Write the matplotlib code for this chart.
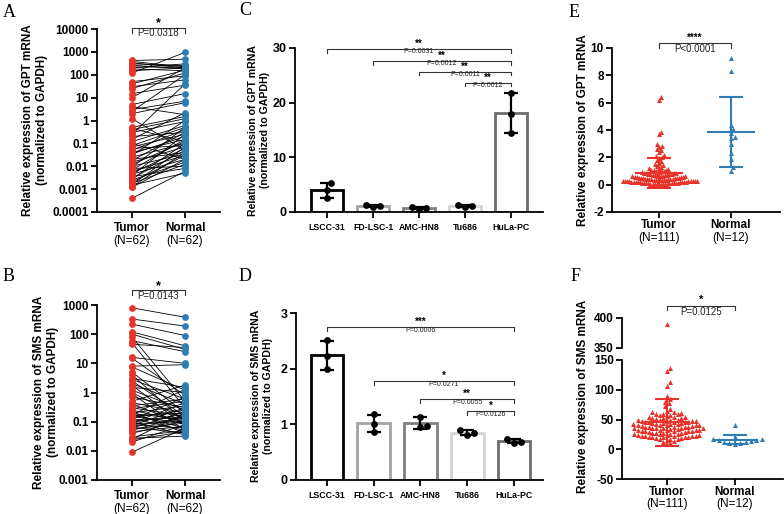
import numpy as np
import matplotlib
matplotlib.use("Agg")
import matplotlib.pyplot as plt
from matplotlib.ticker import NullLocator

plt.rcParams['font.family'] = ['Liberation Sans', 'DejaVu Sans']

# ------------ data ---------------
groups = ["Tumor", "Normal"]

# A: paired GPT (tumor, normal) - same order = same patient
gpt_pair_tumor = [420, 380, 330, 300, 260, 220, 200, 180, 150, 120,
                  50, 40, 30, 25, 15, 10, 5, 4, 3, 2.5,
                  2, 1.2, 0.5, 0.45, 0.4, 0.3, 0.25, 0.2, 0.15, 0.12,
                  0.1, 0.08, 0.07, 0.06, 0.05, 0.04, 0.035, 0.03, 0.025, 0.02,
                  0.018, 0.015, 0.012, 0.01, 0.009, 0.008, 0.007, 0.006, 0.005, 0.0045,
                  0.004, 0.0035, 0.003, 0.0028, 0.0025, 0.002, 0.0018, 0.0016, 0.0015, 0.0013,
                  0.0012, 0.0004]
gpt_pair_normal = [480, 220, 200, 250, 180, 210, 300, 150, 200, 950,
                   90, 160, 60, 120, 35, 200, 15, 1.8, 7, 100,
                   6, 0.05, 1.5, 0.12, 1.2, 0.9, 40, 0.3, 2.2, 0.6,
                   0.02, 0.5, 0.25, 0.08, 0.4, 0.15, 0.2, 1.0, 0.1, 0.04,
                   0.3, 0.07, 0.12, 0.035, 0.5, 0.01, 0.15, 0.03, 0.06, 0.02,
                   0.25, 0.008, 0.05, 0.1, 0.015, 0.03, 0.012, 0.07, 0.005, 0.04,
                   0.02, 0.006]

# B: paired SMS
sms_pair_tumor = [800, 330, 220, 120, 100, 80, 60, 50, 45, 16,
                  15, 8, 7.5, 5, 4, 3, 2.8, 2.5, 2, 1.8,
                  1.5, 1.2, 1.0, 0.9, 0.7, 0.5, 0.45, 0.4, 0.35, 0.3,
                  0.28, 0.25, 0.22, 0.2, 0.19, 0.18, 0.17, 0.16, 0.15, 0.14,
                  0.13, 0.12, 0.11, 0.1, 0.095, 0.09, 0.085, 0.08, 0.075, 0.07,
                  0.065, 0.06, 0.055, 0.05, 0.045, 0.04, 0.03, 0.027, 0.025, 0.024,
                  0.02, 0.009]
sms_pair_normal = [380, 190, 90, 40, 30, 0.5, 25, 0.3, 35, 10,
                   0.8, 9, 1.2, 0.2, 0.1, 1.5, 0.6, 0.15, 0.4, 0.07,
                   1.0, 0.25, 0.12, 0.05, 0.3, 1.8, 0.2, 0.08, 0.6, 0.15,
                   0.5, 0.1, 0.04, 0.35, 0.12, 0.06, 1.3, 0.2, 0.09, 0.25,
                   0.05, 0.7, 0.14, 0.035, 0.18, 0.45, 0.1, 0.06, 0.3, 0.13,
                   0.04, 0.22, 0.09, 0.16, 0.07, 0.11, 0.05, 0.032, 0.2, 0.045,
                   0.08, 0.06]

# C / D: cell lines, three replicates each
cell_lines = ["LSCC-31", "FD-LSC-1", "AMC-HN8", "Tu686", "HuLa-PC"]
gpt_cells = [[5.3, 4.1, 2.6], [1.3, 1.0, 1.1], [0.85, 0.55, 0.7], [1.3, 0.9, 1.1], [21.8, 17.9, 14.5]]
sms_cells = [[2.51, 2.23, 1.99], [1.18, 1.0, 0.87], [1.14, 0.96, 0.97], [0.89, 0.85, 0.81], [0.74, 0.67, 0.68]]
gpt_cell_stars = ["**", "**", "**", "**"]
gpt_cell_p = ["P=0.0031", "P=0.0012", "P=0.0011", "P=0.0012"]
sms_cell_stars = ["***", "*", "**", "*"]
sms_cell_p = ["P=0.0006", "P=0.0271", "P=0.0055", "P=0.0126"]

# E: GPT unpaired
gpt_tumor = [6.4, 6.2, 3.85, 3.7, 2.95, 2.85, 2.75, 2.6, 2.55, 2.4,
             2.2, 2.1, 2.0, 1.95, 1.8, 1.7, 1.6, 1.5, 1.45, 1.4,
             1.3, 1.25, 1.2, 1.15, 1.1, 1.1,
             1.05, 1.0, 1.0, 0.98, 0.95, 0.92, 0.9, 0.88, 0.85, 0.84,
             0.82, 0.8, 0.78, 0.76, 0.75, 0.72, 0.7, 0.7, 0.68, 0.66,
             0.65, 0.63, 0.62, 0.6, 0.6, 0.58, 0.56, 0.55, 0.54, 0.52,
             0.5, 0.5, 0.48, 0.47, 0.46, 0.45, 0.44, 0.42, 0.41, 0.4,
             0.4, 0.38, 0.37, 0.36, 0.35, 0.34, 0.33, 0.32, 0.31, 0.3,
             0.3, 0.29, 0.28, 0.27, 0.26, 0.25, 0.25, 0.24, 0.23, 0.22,
             0.21, 0.2, 0.2, 0.19, 0.18, 0.17, 0.16, 0.15, 0.15, 0.14,
             0.13, 0.12, 0.11, 0.1, 0.1, 0.09, 0.08, 0.07, 0.06, 0.05,
             0.05, 0.04, 0.03, 0.02, 0.01]
gpt_normal = [9.3, 8.3, 4.4, 4.1, 3.8, 3.5, 3.4, 3.0, 2.3, 1.9, 1.3, 1.0]

# F: SMS unpaired
sms_tumor = [390, 137, 132, 113, 107, 90, 85, 80, 78, 72, 68, 65, 63, 62, 61, 60, 60, 59, 58, 57, 56,
             55, 54, 53, 52, 51, 50, 50, 49, 48, 48,
             47, 46, 46, 45, 45, 44, 44, 43, 42, 42,
             41, 41, 40, 40, 39, 39, 38, 38, 37, 37,
             36, 36, 35, 35, 35, 34, 34, 33, 33, 32,
             32, 32, 31, 31, 30, 30, 30, 29, 29, 28,
             28, 27, 27, 26, 26, 25, 25, 24, 24, 23,
             23, 22, 22, 21, 21, 20, 20, 19, 18, 17,
             24, 22, 20, 19, 18, 16, 14, 12, 10, 8,
             50, 48, 46, 44, 42, 40, 38, 36, 52, 54]
sms_normal = [40, 20, 18, 17, 16, 15, 14, 13, 12, 11, 10, 9]

# ------------ figure setup ---------------
W, H = 784, 514
fig = plt.figure(figsize=(W / 100, H / 100), dpi=100)

RED = '#e8332a'
BLUE = '#2f7db5'
BAR_COLORS = ['#000000', '#a3a3a3', '#808080', '#d4d4d4', '#6e6e6e']


def add_ax(l, t, r, b):
    return fig.add_axes([l / W, 1 - b / H, (r - l) / W, (b - t) / H])


def ftext(x, y, s, **kw):
    fig.text(x / W, 1 - y / H, s, **kw)


def style(ax, yticks, ylabels, fs=8.5):
    for s in ('top', 'right'):
        ax.spines[s].set_visible(False)
    for s in ('left', 'bottom'):
        ax.spines[s].set_linewidth(1.3)
    ax.tick_params(direction='out', length=4, width=1.3, pad=2)
    ax.yaxis.set_minor_locator(NullLocator())
    ax.set_yticks(yticks)
    ax.set_yticklabels(ylabels, fontsize=fs, fontweight='bold')


def ppx(ax):
    y0 = ax.get_ylim()[0]
    return ax.transData.transform((1, y0))[0] - ax.transData.transform((0, y0))[0]


def swarm(ax, x0, vals, d_px, max_px):
    ys = ax.transData.transform(np.column_stack([np.full(len(vals), x0), vals]))[:, 1]
    offs = np.zeros(len(vals))
    steps = [0.0]
    for j in range(1, 300):
        steps += [j * d_px / 2, -j * d_px / 2]
    placed = []
    for i in np.argsort(ys):
        near = [(yo, xo) for yo, xo in placed if ys[i] - yo < d_px]
        for c in steps:
            if all((c - xo) ** 2 + (ys[i] - yo) ** 2 >= d_px ** 2 for yo, xo in near):
                break
        offs[i] = c
        placed.append((ys[i], c))
    m = np.abs(offs).max()
    if m > max_px:
        offs *= max_px / m
    return x0 + offs / ppx(ax)


def cat_labels(ax, names, ns, d1, d2, fs=8.5):
    h = ax.bbox.height
    for i, (a, b) in enumerate(zip(names, ns)):
        ax.text(i, -d1 / h, a, transform=ax.get_xaxis_transform(), ha='center', va='center',
                fontsize=fs, fontweight='bold')
        ax.text(i, -d2 / h, b, transform=ax.get_xaxis_transform(), ha='center', va='center',
                fontsize=fs)


def bracket(ax, x1, x2, line, tick, star, ptxt, star_dy, p_dy, star_fs=8, p_fs=7):
    # y values given in pixels relative to the top of the axes
    h = ax.bbox.height
    f = lambda px: 1 + px / h
    tr = ax.get_xaxis_transform()
    ax.plot([x1, x1, x2, x2], [f(line - tick), f(line), f(line), f(line - tick)],
            transform=tr, clip_on=False, color='#333333', lw=0.8)
    ax.text((x1 + x2) / 2, f(line + star_dy), star, transform=tr, ha='center', va='center',
            fontsize=star_fs, fontweight='bold')
    ax.text((x1 + x2) / 2, f(line - p_dy), ptxt, transform=tr, ha='center', va='center',
            fontsize=p_fs, color='#222222')


def meansd(ax, x0, vals, color, half_mean, half_cap, lw=1.5):
    m, sd = np.mean(vals), np.std(vals, ddof=1)
    kw = dict(color=color, lw=lw, zorder=4, solid_capstyle='butt')
    ax.plot([x0, x0], [m - sd, m + sd], **kw)
    ax.plot([x0 - half_cap, x0 + half_cap], [m + sd, m + sd], **kw)
    ax.plot([x0 - half_cap, x0 + half_cap], [m - sd, m - sd], **kw)
    ax.plot([x0 - half_mean, x0 + half_mean], [m, m], **kw)


# ------------ paired panels (A, B) ---------------
def paired_panel(ax, tumor, normal, ylim, yticks, ylabels, ns, star, ptxt, br):
    ax.set_yscale('log')
    ax.set_ylim(ylim)
    ax.set_xlim(-0.66, 1.66)
    style(ax, yticks, ylabels)
    for t, n in zip(tumor, normal):
        ax.plot([0, 1], [t, n], color='black', lw=0.6, zorder=1)
    ax.scatter(np.zeros(len(tumor)), tumor, s=24, color=RED, zorder=3, linewidths=0, clip_on=False)
    ax.scatter(np.ones(len(normal)), normal, s=24, color=BLUE, zorder=3, linewidths=0, clip_on=False)
    ax.set_xticks([0, 1])
    ax.set_xticklabels([])
    cat_labels(ax, groups, ns, 16, 29)
    bracket(ax, 0, 1, br[0], br[1], star, ptxt, br[2], br[3], star_fs=9, p_fs=7)


axA = add_ax(97, 29, 220, 212)
paired_panel(axA, gpt_pair_tumor, gpt_pair_normal, (1e-4, 1e4),
             [1e-4, 1e-3, 1e-2, 1e-1, 1, 10, 100, 1000, 10000],
             ['0.0001', '0.001', '0.01', '0.1', '1', '10', '100', '1000', '10000'],
             ['(N=62)', '(N=62)'], '*', 'P=0.0318', (1, 5, 5, 5.5))

axB = add_ax(97, 305, 220, 480)
paired_panel(axB, sms_pair_tumor, sms_pair_normal, (1e-3, 1e3),
             [1e-3, 1e-2, 1e-1, 1, 10, 100, 1000],
             ['0.001', '0.01', '0.1', '1', '10', '100', '1000'],
             ['(N=62)', '(N=62)'], '*', 'P=0.0143', (15, 5, 4, 6))


# ------------ bar panels (C, D) ---------------
def bar_panel(ax, cells, ylim, yticks, xlim, stars, pvals, lines, p_dy):
    ax.set_ylim(ylim)
    ax.set_xlim(xlim)
    style(ax, yticks, [str(t) for t in yticks], fs=9)
    x = np.arange(len(cells))
    means = [np.mean(c) for c in cells]
    sds = [np.std(c, ddof=1) for c in cells]
    ax.bar(x, means, width=0.7, color='white', edgecolor=BAR_COLORS, linewidth=2, zorder=1)
    cap = 7 / ppx(ax)
    for i in x:
        kw = dict(color='black', lw=1.6, zorder=3, solid_capstyle='butt')
        ax.plot([i, i], [means[i] - sds[i], means[i] + sds[i]], **kw)
        ax.plot([i - cap, i + cap], [means[i] + sds[i]] * 2, **kw)
        ax.plot([i - cap, i + cap], [means[i] - sds[i]] * 2, **kw)
        ax.scatter(swarm(ax, i, cells[i], 7, 12), cells[i], s=24, color='black', zorder=4, linewidths=0)
    ax.set_xticks(x)
    ax.set_xticklabels(cell_lines, fontsize=6.3, fontweight='bold')
    ax.tick_params(axis='x', pad=4)
    for k in range(4):
        bracket(ax, k, 4, lines[k], 3.5, stars[k], pvals[k], 5, p_dy, star_fs=7, p_fs=5)


axC = add_ax(295, 48, 543, 212)
bar_panel(axC, gpt_cells, (0, 30), [0, 10, 20, 30], (-0.70, 4.70),
          gpt_cell_stars, gpt_cell_p, [-1, -13, -23.7, -34.7], 2.5)

axD = add_ax(296, 313, 543, 480)
bar_panel(axD, sms_cells, (0, 3), [0, 1, 2, 3], (-0.66, 4.62),
          sms_cell_stars, sms_cell_p, [-14, -68, -86, -98], 3.5)


# ------------ scatter panels (E, F) ---------------
axE = add_ax(612, 48, 780, 212)
axE.set_ylim(-2, 10)
axE.set_xlim(-0.65, 1.68)
style(axE, [-2, 0, 2, 4, 6, 8, 10], ['-2', '0', '2', '4', '6', '8', '10'])
axE.scatter(swarm(axE, 0, gpt_tumor, 4.5, 38), gpt_tumor, marker='^', s=13, color=RED,
            linewidths=0, zorder=3)
axE.scatter(swarm(axE, 1, gpt_normal, 4.5, 30), gpt_normal, marker='^', s=13, color=BLUE,
            linewidths=0, zorder=3)
meansd(axE, 0, gpt_tumor, RED, 24 / ppx(axE), 12 / ppx(axE))
meansd(axE, 1, gpt_normal, BLUE, 24 / ppx(axE), 12 / ppx(axE))
axE.set_xticks([0, 1])
axE.set_xticklabels([])
cat_labels(axE, groups, ['(N=111)', '(N=12)'], 13, 26)
bracket(axE, 0, 1, 5, 5, '****', 'P<0.0001', 5, 5.5, star_fs=7, p_fs=7)

# F: broken y axis
axF = add_ax(622, 360, 783, 479)
axF.set_ylim(-50, 150)
axF.set_xlim(-0.66, 1.71)
style(axF, [-50, 0, 50, 100, 150], ['-50', '0', '50', '100', '150'])
axF2 = add_ax(622, 318, 783, 348)
axF2.set_ylim(350, 400)
axF2.set_xlim(-0.66, 1.71)
style(axF2, [350, 400], ['350', '400'])
axF2.spines['bottom'].set_visible(False)
axF2.set_xticks([])
xt = swarm(axF, 0, sms_tumor, 4.5, 36)
xn = swarm(axF, 1, sms_normal, 6, 27)
for a in (axF, axF2):
    a.scatter(xt, sms_tumor, marker='^', s=13, color=RED, linewidths=0, zorder=3)
    a.scatter(xn, sms_normal, marker='^', s=13, color=BLUE, linewidths=0, zorder=3)
meansd(axF, 0, sms_tumor, RED, 23 / ppx(axF), 12 / ppx(axF))
meansd(axF, 1, sms_normal, BLUE, 23 / ppx(axF), 12 / ppx(axF))
axF.set_xticks([0, 1])
axF.set_xticklabels([])
cat_labels(axF, groups, ['(N=111)', '(N=12)'], 13, 25)
bracket(axF2, 0, 1, 12, 4, '*', 'P=0.0125', 6, 6, star_fs=8, p_fs=7)

# ------------ axis titles and panel letters ---------------
two = 'Relative expression of {} mRNA\n(normalized to GAPDH)'
ftext(35, 120, two.format('GPT'), rotation=90, ha='center', va='center', fontsize=8.5,
      fontweight='bold', multialignment='center', linespacing=1.2)
ftext(46, 392, two.format('SMS'), rotation=90, ha='center', va='center', fontsize=8.5,
      fontweight='bold', multialignment='center', linespacing=1.2)
ftext(259, 130, two.format('GPT'), rotation=90, ha='center', va='center', fontsize=7.6,
      fontweight='bold', multialignment='center', linespacing=1.2)
ftext(262, 396, two.format('SMS'), rotation=90, ha='center', va='center', fontsize=7.6,
      fontweight='bold', multialignment='center', linespacing=1.2)
ftext(583, 130, 'Relative expression of GPT mRNA', rotation=90, ha='center', va='center',
      fontsize=8.5, fontweight='bold')
ftext(583, 396, 'Relative expression of SMS mRNA', rotation=90, ha='center', va='center',
      fontsize=8.5, fontweight='bold')

for letter, x, y in [('A', 3, 4), ('B', 3, 268), ('C', 239, 2), ('D', 239, 268),
                     ('E', 569, 4), ('F', 571, 268)]:
    ftext(x, y, letter, ha='left', va='top', fontsize=13, family='Liberation Serif')

fig.savefig('out.png', dpi=100)
